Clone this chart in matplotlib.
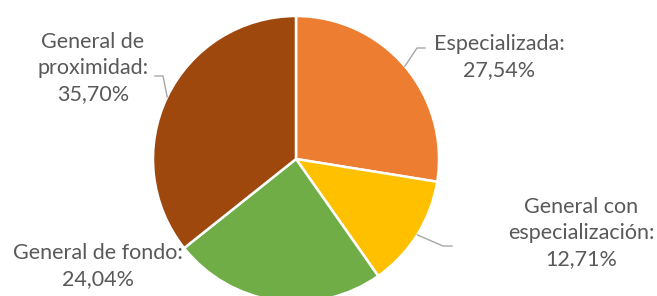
import matplotlib
matplotlib.use("Agg")
import matplotlib.pyplot as plt
import numpy as np

# data
categories = ["Especializada", "General con\nespecialización", "General de fondo", "General de\nproximidad"]
shares = [27.54, 12.71, 24.04, 35.70]
colors = ["#ED7D31", "#FFC000", "#70AD47", "#9E480E"]

W, H = 657, 296

def py(y):
    # pixel row (from top) -> data y
    return H - y

fig = plt.figure(figsize=(W / 100, H / 100), dpi=100)
ax = fig.add_axes([0, 0, 1, 1])

cx, cy, r = 296, 159, 143
wedges, _ = ax.pie(shares, colors=colors, startangle=90, counterclock=False,
                   center=(cx, py(cy)), radius=r,
                   wedgeprops=dict(edgecolor="white", linewidth=1.8))
ax.set_xlim(0, W)
ax.set_ylim(0, H)
ax.set_aspect("equal")
ax.axis("off")

label_text = [f"{c}:\n{v:.2f}%".replace(".", ",") for c, v in zip(categories, shares)]

# label centres (pixels) and elbow / end of leader lines
label_pos = [(499, 57), (581, 233), (98, 266), (93, 68)]
leaders = [[(417, 48), (425, 48)], [(443, 246), (452, 246)], None, [(163, 76), (155, 76)]]

for w, txt, (lx, ly), lead in zip(wedges, label_text, label_pos, leaders):
    ax.text(lx, py(ly), txt, ha="center", va="center", fontsize=15.5,
            family="Lato", color="#595959", linespacing=1.35)
    if lead is None:
        continue
    mid = np.deg2rad((w.theta1 + w.theta2) / 2)
    ex, ey = cx + r * np.cos(mid), py(cy) + r * np.sin(mid)
    xs = [ex] + [p[0] for p in lead]
    ys = [ey] + [py(p[1]) for p in lead]
    ax.plot(xs, ys, color="#A6A6A6", lw=1)

fig.savefig("out.png", dpi=100)
